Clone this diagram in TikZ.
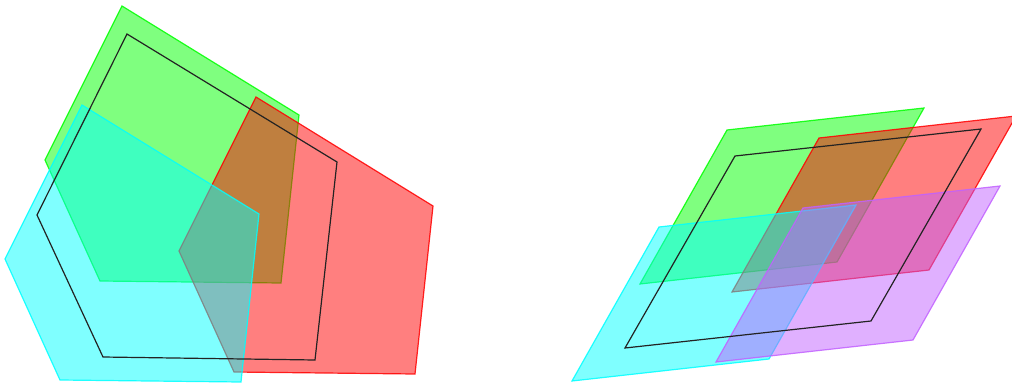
\documentclass[tikz,border=0pt]{standalone}
\definecolor{pgreen}{RGB}{0,255,0}
\definecolor{pred}{RGB}{255,0,0}
\definecolor{pcyan}{RGB}{0,255,255}
\definecolor{ppurple}{RGB}{193,97,255}
\definecolor{pline}{RGB}{35,35,35}
\tikzset{
  face/.style={fill=#1, fill opacity=0.5, draw=#1, draw opacity=0.85, line width=1.2pt, line join=miter},
  outline/.style={draw=pline, line width=1.2pt, line join=miter}
}
\begin{document}
\begin{tikzpicture}[x=1pt,y=-1pt]
\useasboundingbox (0,0) rectangle (1012,383);
\clip (0,0) rectangle (1012,383);
% left figure
\draw[face=pgreen] (122,6) -- (299,115) -- (281,283) -- (100,281) -- (45,160) -- cycle;
\draw[face=pred] (256,97) -- (433,206) -- (415,374) -- (234,372) -- (179,251) -- cycle;
\draw[face=pcyan] (82,105) -- (259,214) -- (241,382) -- (60,380) -- (5,259) -- cycle;
\draw[outline] (127,34) -- (337,162) -- (315,360) -- (103,357) -- (37,215) -- cycle;
% right figure
\draw[face=pgreen] (727,130) -- (924,108) -- (837,262) -- (640,284) -- cycle;
\draw[face=pred] (819,138) -- (1016,116) -- (929,270) -- (732,292) -- cycle;
\draw[face=pcyan] (659,227) -- (856,205) -- (769,359) -- (572,381) -- cycle;
\draw[face=ppurple] (803,208) -- (1000,186) -- (913,340) -- (716,362) -- cycle;
\draw[outline] (735,156) -- (981,129) -- (871,321) -- (625,348) -- cycle;
\end{tikzpicture}
\end{document}
